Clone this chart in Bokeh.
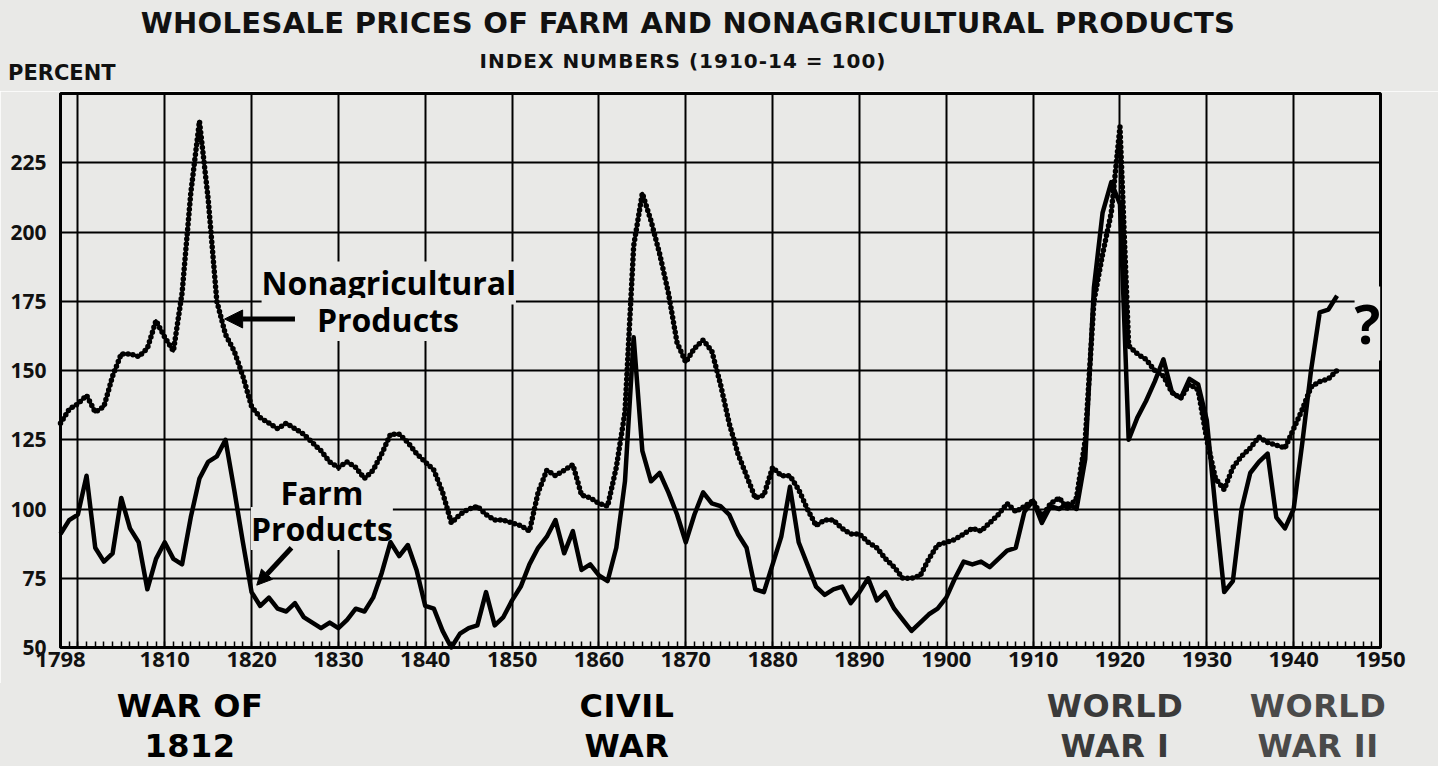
from bokeh.plotting import figure
from bokeh.layouts import column
from bokeh.models import Range1d, FixedTicker, Label, Arrow, NormalHead, Div
from bokeh.embed import file_html
from bokeh.resources import INLINE

# ---------------- data ----------------
years = list(range(1798, 1946))

farm = [
    91, 96,                                              # 1798-1799
    98, 112, 86, 81, 84, 104, 93, 88, 71, 82,            # 1800s
    88, 82, 80, 97, 111, 117, 119, 125, 107, 88,         # 1810s
    70, 65, 68, 64, 63, 66, 61, 59, 57, 59,              # 1820s
    57, 60, 64, 63, 68, 77, 88, 83, 87, 78,              # 1830s
    65, 64, 56, 50, 55, 57, 58, 70, 58, 61,              # 1840s
    67, 72, 80, 86, 90, 96, 84, 92, 78, 80,              # 1850s
    76, 74, 86, 110, 162, 121, 110, 113, 106, 98,        # 1860s
    88, 98, 106, 102, 101, 98, 91, 86, 71, 70,           # 1870s
    80, 90, 108, 88, 80, 72, 69, 71, 72, 66,             # 1880s
    70, 75, 67, 70, 64, 60, 56, 59, 62, 64,              # 1890s
    68, 75, 81, 80, 81, 79, 82, 85, 86, 99,              # 1900s
    103, 95, 101, 100, 102, 100, 118, 180, 207, 218,     # 1910s
    210, 125, 133, 139, 146, 154, 142, 140, 147, 145,    # 1920s
    132, 100, 70, 74, 100, 113, 117, 120, 97, 93,        # 1930s
    100, 124, 150, 171, 172, 177,                        # 1940-1945
]

nonag = [
    131, 136,                                            # 1798-1799
    138, 141, 135, 137, 148, 156, 156, 155, 158, 168,    # 1800s
    162, 157, 178, 214, 240, 212, 175, 163, 157, 148,    # 1810s
    137, 133, 131, 129, 131, 129, 127, 124, 121, 117,    # 1820s
    115, 117, 115, 111, 114, 120, 127, 127, 124, 120,    # 1830s
    117, 114, 106, 95, 98, 100, 101, 98, 96, 96,         # 1840s
    95, 94, 92, 106, 114, 112, 114, 116, 105, 104,       # 1850s
    102, 101, 115, 135, 195, 214, 204, 192, 178, 160,    # 1860s
    153, 158, 161, 157, 145, 131, 120, 112, 104, 105,    # 1870s
    115, 112, 112, 107, 100, 94, 96, 96, 93, 91,         # 1880s
    91, 88, 86, 82, 79, 75, 75, 76, 82, 87,              # 1890s
    88, 89, 91, 93, 92, 95, 98, 102, 99, 101,            # 1900s
    103, 97, 102, 104, 100, 104, 125, 175, 192, 207,     # 1910s
    238, 159, 156, 154, 150, 148, 142, 140, 145, 143,    # 1920s
    125, 111, 107, 115, 119, 122, 126, 124, 123, 122,    # 1930s
    129, 136, 144, 146, 147, 150,                        # 1940-1945
]

x_tick_years = [1798, 1810, 1820, 1830, 1840, 1850, 1860, 1870, 1880, 1890,
                1900, 1910, 1920, 1930, 1940, 1950]
x_grid_years = [1800, 1810, 1820, 1830, 1840, 1850, 1860, 1870, 1880, 1890,
                1900, 1910, 1920, 1930, 1940]
minor_years = list(range(1798, 1951))
y_ticks = [50, 75, 100, 125, 150, 175, 200, 225]
y_grid = [75, 100, 125, 150, 175, 200, 225]

title_text = "WHOLESALE PRICES OF FARM AND NONAGRICULTURAL PRODUCTS"
subtitle_text = "INDEX NUMBERS (1910-14 = 100)"
war_labels = [("WAR OF", "1812"), ("CIVIL", "WAR"), ("WORLD", "WAR I"), ("WORLD", "WAR II")]

BG = "#e9e9e7"
FONT = "Open Sans"
HFONT = "DejaVu Sans"
W = 1438
TOP_H = 91
MAIN_H = 592
BOT_H = 766 - TOP_H - MAIN_H


def html_text(x, top, text, size, weight, font, color="black", ls=0, center=True):
    tx = "translateX(-50%)" if center else "none"
    align = "center" if center else "left"
    return (f'<div style="position:absolute;left:{x}px;top:{top}px;transform:{tx};'
            f'white-space:nowrap;text-align:{align};font-family:\'{font}\',sans-serif;'
            f'font-size:{size}px;font-weight:{weight};letter-spacing:{ls}px;'
            f'line-height:normal;color:{color};">{text}</div>')


def html_box(height, parts):
    return (f'<div style="position:relative;width:{W}px;height:{height}px;'
            f'background:{BG};margin:0;padding:0;">' + "".join(parts) + '</div>')


# ---------------- top: titles ----------------
top_parts = [
    html_text(688, 6, title_text, 29, 700, HFONT, color="#111111", ls=0.3),
    html_text(683, 49, subtitle_text, 20, 700, HFONT, color="#111111", ls=1),
    html_text(8, 61, "PERCENT", 21, 700, HFONT, color="#111111", center=False),
]
top = Div(text=html_box(TOP_H, top_parts), width=W, height=TOP_H, margin=(0, 0, 0, 0),
          styles={"background-color": BG})

# ---------------- main chart ----------------
p = figure(width=W, height=MAIN_H, output_backend="svg", toolbar_location=None,
           x_range=Range1d(1798, 1950), y_range=Range1d(50, 250),
           min_border_left=60, min_border_right=58, min_border_top=2,
           min_border_bottom=36,
           background_fill_color=BG, border_fill_color=BG,
           outline_line_color="black", outline_line_width=3)

p.xaxis.ticker = FixedTicker(ticks=x_tick_years, minor_ticks=minor_years)
p.xaxis.axis_line_width = 3
p.xaxis.major_tick_in = 0
p.xaxis.major_tick_out = 0
p.xaxis.minor_tick_in = 6
p.xaxis.minor_tick_out = 0
p.xaxis.minor_tick_line_width = 1.5
p.xaxis.minor_tick_line_color = "black"
p.xaxis.major_label_standoff = 4
p.xaxis.major_label_text_font = FONT
p.xaxis.major_label_text_font_size = "22px"
p.xaxis.major_label_text_font_style = "bold"
p.xaxis.major_label_text_color = "#111111"

p.yaxis.ticker = FixedTicker(ticks=y_ticks)
p.yaxis.axis_line_width = 3
p.yaxis.major_tick_in = 0
p.yaxis.major_tick_out = 0
p.yaxis.minor_tick_line_color = None
p.yaxis.major_label_standoff = 14
p.yaxis.major_label_text_font = FONT
p.yaxis.major_label_text_font_size = "21px"
p.yaxis.major_label_text_font_style = "bold"
p.yaxis.major_label_text_color = "#111111"

p.xgrid.ticker = FixedTicker(ticks=x_grid_years)
p.ygrid.ticker = FixedTicker(ticks=y_grid)
for g in (p.xgrid, p.ygrid):
    g.grid_line_color = "black"
    g.grid_line_width = 2
    g.grid_line_alpha = 1.0

# series drawn above the label boxes
p.line(years, farm, line_color="black", line_width=4.5, line_join="round",
       level="overlay")
p.line(years, nonag, line_color="black", line_width=3, line_join="round",
       level="overlay")
p.line(years, nonag, line_color="black", line_width=5.5, line_dash="0 5",
       line_cap="round", level="overlay")


def label(fig, x, y, text, size, color="black", bg=None):
    kw = dict(x=x, y=y, text=text, text_align="center", text_baseline="middle",
              text_font=FONT, text_font_size=size, text_font_style="bold",
              text_color=color)
    if bg:
        kw["background_fill_color"] = bg
    fig.add_layout(Label(**kw))


label(p, 1835.8, 181.6, "Nonagricultural", "32px", bg=BG)
label(p, 1835.7, 168.4, "Products", "32px", bg=BG)
p.add_layout(Arrow(end=NormalHead(size=18, fill_color="black", line_color="black"),
                   x_start=1825.0, y_start=168.6, x_end=1816.9, y_end=168.6,
                   line_width=5, line_color="black"))

label(p, 1828.1, 106.0, "Farm", "32px", bg=BG)
label(p, 1828.1, 93.0, "Products", "32px", bg=BG)
p.add_layout(Arrow(end=NormalHead(size=15, fill_color="black", line_color="black"),
                   x_start=1824.6, y_start=86.0, x_end=1820.6, y_end=72.5,
                   line_width=5, line_color="black"))

label(p, 1948.5, 167.0, "?", "54px", bg=BG)

# ---------------- bottom: war labels ----------------
war_x = [190, 627, 1115, 1318]
war_colors = ["black", "black", "#3a3a3a", "#4a4a4a"]
bot_parts = []
for (l1, l2), xc, col in zip(war_labels, war_x, war_colors):
    bot_parts.append(html_text(xc, 4, l1, 32, 700, HFONT, color=col, ls=0.5))
    bot_parts.append(html_text(xc, 44, l2, 32, 700, HFONT, color=col, ls=0.5))
bot = Div(text=html_box(BOT_H, bot_parts), width=W, height=BOT_H, margin=(0, 0, 0, 0),
          styles={"background-color": BG})

layout = column(top, p, bot, spacing=0)
open("out.html", "w").write(file_html(layout, INLINE))
